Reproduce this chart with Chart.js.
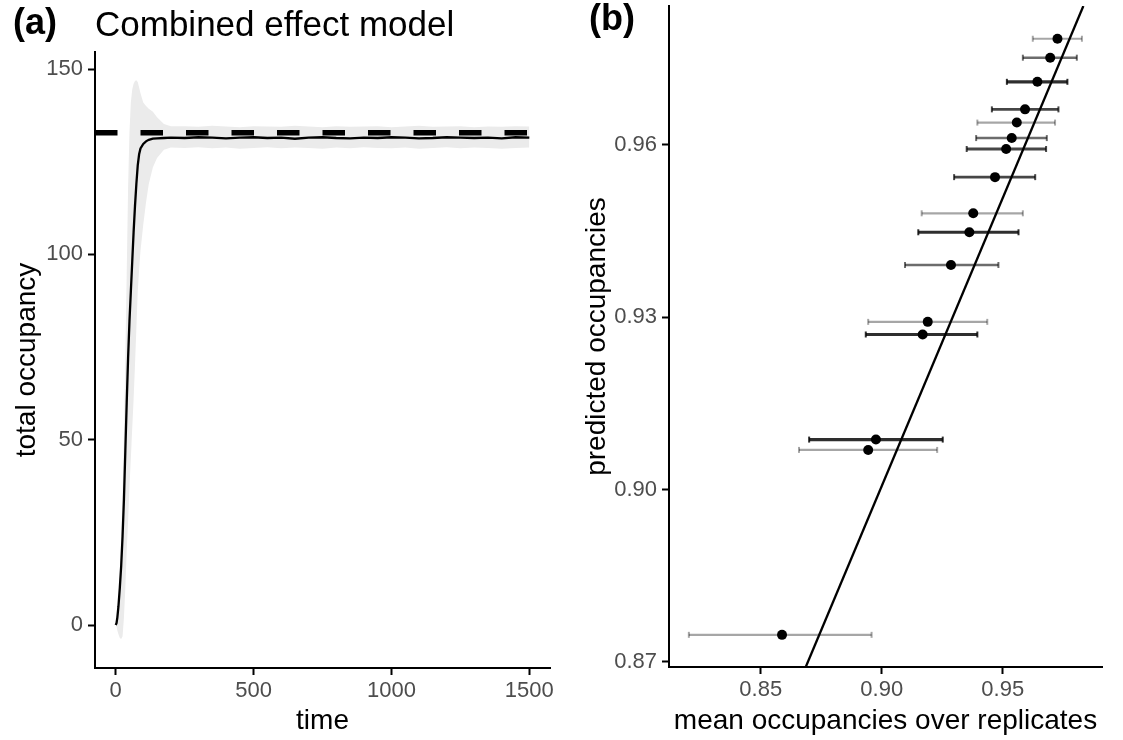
<!DOCTYPE html>
<html>
<head>
<meta charset="utf-8">
<script src="https://cdn.jsdelivr.net/npm/chart.js@4.4.1/dist/chart.umd.min.js"></script>
<style>
    html, body { margin: 0; padding: 0; background: #fff; }
    body { width: 1123px; height: 740px; position: relative; overflow: hidden; font-family: "Liberation Sans", Arial, sans-serif; }
    canvas { position: absolute; top: 0; }
    #chartA { left: 0; }
    #chartB { left: 561px; }
    .tag, .title { position: absolute; line-height: 1; color: #000; white-space: nowrap; }
    .tag { font-weight: bold; font-size: 36px; }
    .title { font-size: 35px; }
</style>
</head>
<body>
<canvas id="chartA" width="561" height="740"></canvas>
<canvas id="chartB" width="562" height="740"></canvas>
<div class="tag" style="left: 13px; top: 4px;">(a)</div>
<div class="title" style="left: 95px; top: 6px;">Combined effect model</div>
<div class="tag" style="left: 589px; top: 0px;">(b)</div>

<script>
// ---- panel (a): total occupancy over time ----
const timeSteps = [0, 3, 6, 10, 15, 20, 25, 30, 35, 40, 45, 50, 55, 60, 65, 70, 75, 80, 85, 90,
    100, 110, 120, 135, 150, 175, 200,
    250, 300, 350, 400, 450, 500, 550, 600, 650, 700, 750, 800, 850, 900, 950,
    1000, 1050, 1100, 1150, 1200, 1250, 1300, 1350, 1400, 1450, 1500];
const occMean = [0, 0.5, 2, 5, 10, 16, 24, 34, 47, 60, 72, 82, 90, 98, 106, 113, 119, 124, 127, 128.6,
    129.8, 130.5, 130.9, 131.2, 131.3, 131.4, 131.5,
    131.4, 131.6, 131.5, 131.3, 131.5, 131.6, 131.4, 131.5, 131.2, 131.5, 131.6, 131.4, 131.3, 131.5, 131.4,
    131.6, 131.5, 131.3, 131.4, 131.6, 131.5, 131.4, 131.5, 131.3, 131.6, 131.5];
const occUpper = [0, 1.5, 3.5, 7, 14, 24, 36, 52, 72, 95, 118, 133, 141, 144.5, 146, 146.8, 147, 146.5, 145, 143.5,
    141, 140, 139.3, 138.5, 137, 135.2, 134.6,
    134.6, 134.4, 134.7, 134.5, 134.3, 134.6, 134.5, 134.4, 134.7, 134.5, 134.3, 134.6, 134.4, 134.5, 134.6,
    134.3, 134.5, 134.7, 134.4, 134.5, 134.6, 134.3, 134.5, 134.4, 134.6, 134.5];
const occLower = [0, -0.5, -1.5, -2.5, -3.5, -3.8, -3, 2, 10, 20, 28, 37, 45, 53, 61, 70, 80, 90, 96, 101,
    108, 114, 119, 123.5, 126, 128.2, 128.8,
    128.7, 128.9, 128.6, 128.8, 128.5, 128.7, 128.9, 128.6, 128.8, 128.7, 128.5, 128.8, 128.6, 128.9, 128.7,
    128.6, 128.8, 128.5, 128.7, 128.9, 128.6, 128.8, 128.7, 128.5, 128.7, 128.8];
const equilibrium = 132.8;
const timeTicks = [0, 500, 1000, 1500];
const occTicks = [0, 50, 100, 150];
const timeRange = [-75, 1575];
const occRange = [-11.6, 154.6];

// ---- panel (b): predicted vs observed occupancies ----
const obsMean = [0.9726, 0.9696, 0.9643, 0.9592, 0.9558, 0.9537, 0.9514, 0.9468, 0.9378, 0.9362, 0.9286, 0.9190, 0.9169, 0.8976, 0.8944, 0.8588];
const obsLow = [0.9624, 0.9583, 0.9517, 0.9455, 0.9395, 0.9390, 0.9351, 0.9299, 0.9165, 0.9151, 0.9096, 0.8944, 0.8934, 0.8700, 0.8658, 0.8203];
const obsHigh = [0.9827, 0.9806, 0.9767, 0.9730, 0.9716, 0.9682, 0.9679, 0.9634, 0.9583, 0.9565, 0.9482, 0.9436, 0.9395, 0.9252, 0.9229, 0.8958];
const predicted = [0.9785, 0.9752, 0.9710, 0.9662, 0.9639, 0.9612, 0.9593, 0.9544, 0.9481, 0.9448, 0.9391, 0.9292, 0.9270, 0.9087, 0.9069, 0.8747];
const replicateOverlap = [1, 2, 4, 3, 1, 2, 3, 3, 1, 4, 2, 1, 4, 4, 1, 1];
const fitX = [0.8686, 0.9833];
const fitY = [0.8691, 0.9842];
const meanTicks = [0.85, 0.90, 0.95];
const predTicks = [0.87, 0.90, 0.93, 0.96];
const meanRange = [0.8121, 0.9910];
const predRange = [0.8691, 0.9842];

const FONT = '"Liberation Sans", Arial, sans-serif';
const TICK_GREY = '#4D4D4D';

function axis(opts) {
    // ggplot theme_classic look: black axis line, outside ticks, no grid
    return {
        type: 'linear',
        position: opts.position,
        min: opts.range[0],
        max: opts.range[1],
        afterBuildTicks: s => { s.ticks = opts.ticks.map(v => ({ value: v })); },
        afterFit: s => {
            if (opts.position === 'left') s.width = opts.size; else s.height = opts.size;
            // no extra room for overflowing tick labels, panel edges are fixed
            s.paddingTop = s.paddingBottom = s.paddingLeft = s.paddingRight = 0;
        },
        border: { display: true, color: '#000', width: 2 },
        grid: { drawOnChartArea: false, drawTicks: true, tickLength: 7, tickWidth: 2, tickColor: '#000' },
        ticks: {
            autoSkip: false, maxRotation: 0, minRotation: 0,
            padding: opts.position === 'left' ? 5 : 3,
            color: TICK_GREY,
            font: { family: FONT, size: 22 },
            callback: v => opts.fmt(v)
        },
        title: {
            display: true, text: opts.title, color: '#000',
            font: { family: FONT, size: 28, lineHeight: 1.2 },
            padding: opts.titlePad
        }
    };
}

const xy = (xs, ys) => xs.map((x, i) => ({ x, y: ys[i] }));

new Chart(document.getElementById('chartA'), {
    type: 'line',
    data: {
        datasets: [
            {
                data: xy(timeSteps, occLower),
                borderWidth: 0, pointRadius: 0, fill: false, order: 3
            },
            {
                data: xy(timeSteps, occUpper),
                borderWidth: 0, pointRadius: 0, order: 3,
                fill: { target: 0 }, backgroundColor: '#EBEBEB'
            },
            {
                data: xy(timeSteps, occMean),
                borderColor: '#000', borderWidth: 2.3, pointRadius: 0, fill: false, tension: 0, order: 2
            },
            {
                data: xy(timeRange, [equilibrium, equilibrium]),
                borderColor: '#000', borderWidth: 5.5, borderDash: [22.5, 23], borderCapStyle: 'butt',
                pointRadius: 0, fill: false, order: 1
            }
        ]
    },
    options: {
        responsive: false, animation: false,
        layout: { padding: { left: 0, right: 11, top: 52, bottom: 0 } },
        plugins: { legend: { display: false }, tooltip: { enabled: false } },
        scales: {
            x: axis({ position: 'bottom', range: timeRange, ticks: timeTicks, size: 72,
                fmt: v => String(v), title: 'time', titlePad: { top: 0, bottom: 1.5 } }),
            y: axis({ position: 'left', range: occRange, ticks: occTicks, size: 95,
                fmt: v => String(v), title: 'total occupancy', titlePad: { top: 10, bottom: 0 } })
        }
    }
});

const errorBars = obsMean.map((m, i) => {
    const n = replicateOverlap[i];
    const col = `rgba(0,0,0,${(1 - Math.pow(0.65, n)).toFixed(3)})`;
    return {
        data: [{ x: obsLow[i], y: predicted[i] }, { x: obsHigh[i], y: predicted[i] }],
        borderColor: col, borderWidth: 1.8 + 0.35 * n,
        pointStyle: 'line', rotation: 90, pointRadius: 3,
        pointBorderColor: col, pointBorderWidth: 2, pointBackgroundColor: col,
        fill: false, order: 3
    };
});

new Chart(document.getElementById('chartB'), {
    type: 'line',
    data: {
        datasets: [
            ...errorBars,
            {
                data: xy(obsMean, predicted),
                showLine: false, pointRadius: 5, pointStyle: 'circle',
                pointBackgroundColor: '#000', pointBorderColor: '#000', pointBorderWidth: 0, order: 2
            },
            {
                data: xy(fitX, fitY),
                borderColor: '#000', borderWidth: 2.3, pointRadius: 0, fill: false, order: 1
            }
        ]
    },
    options: {
        responsive: false, animation: false,
        layout: { padding: { left: 0, right: 21, top: 5, bottom: 0 } },
        plugins: { legend: { display: false }, tooltip: { enabled: false } },
        scales: {
            x: axis({ position: 'bottom', range: meanRange, ticks: meanTicks, size: 73,
                fmt: v => v.toFixed(2), title: 'mean occupancies over replicates', titlePad: { top: 0, bottom: 1.5 } }),
            y: axis({ position: 'left', range: predRange, ticks: predTicks, size: 108,
                fmt: v => v.toFixed(2), title: 'predicted occupancies', titlePad: { top: 19, bottom: 0 } })
        }
    }
});
</script>
</body>
</html>
